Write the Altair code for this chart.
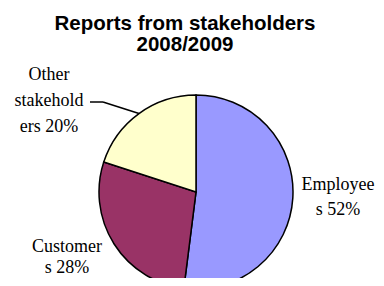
import altair as alt
import pandas as pd

categories = ["Employees", "Customers", "Other stakeholders"]
values = [52, 28, 20]
colors = ["#9999FF", "#993366", "#FFFFCC"]
label_lines = [["Employee", "s 52%"], ["Customer", "s 28%"], ["Other", "stakehold", "ers 20%"]]
title_lines = ["Reports from stakeholders", "2008/2009"]

df = pd.DataFrame({"category": categories, "value": values, "order": list(range(len(categories)))})

W, H = 368, 270
CX, CY, R = 188, 184, 97

pie = alt.Chart(df).mark_arc(outerRadius=R, stroke="black", strokeWidth=1.5).encode(
    theta=alt.Theta("value:Q", stack=True),
    color=alt.Color("category:N", scale=alt.Scale(domain=categories, range=colors), legend=None),
    order=alt.Order("order:Q"),
    x=alt.value(CX),
    y=alt.value(CY),
)

label_pos = [(330, 182, 25), (59, 244, 21), (41, 72, 26)]
labels = []
for lines, (lx, ly, lh) in zip(label_lines, label_pos):
    labels.append(
        alt.Chart(df.head(1)).mark_text(
            font="Liberation Serif", fontSize=18, lineHeight=lh,
            align="center", baseline="alphabetic", color="black",
        ).encode(x=alt.value(lx), y=alt.value(ly), text=alt.value(lines))
    )

title = alt.Chart(df.head(1)).mark_text(
    font="Liberation Sans", fontSize=20.5, fontWeight="bold", lineHeight=21,
    align="center", baseline="alphabetic", color="black",
).encode(x=alt.value(177), y=alt.value(22), text=alt.value(title_lines))

lead1 = alt.Chart(df.head(1)).mark_rule(color="black", strokeWidth=1.5).encode(
    x=alt.value(82), x2=alt.value(95), y=alt.value(94), y2=alt.value(94))
lead2 = alt.Chart(df.head(1)).mark_rule(color="black", strokeWidth=1.5).encode(
    x=alt.value(95), x2=alt.value(131), y=alt.value(94), y2=alt.value(105.5))

chart = alt.layer(pie, *labels, title, lead1, lead2).properties(
    width=W, height=H, autosize="none", padding=0
).configure_view(stroke=None)

chart.save("out.html", embed_options={"renderer": "svg", "actions": False})
